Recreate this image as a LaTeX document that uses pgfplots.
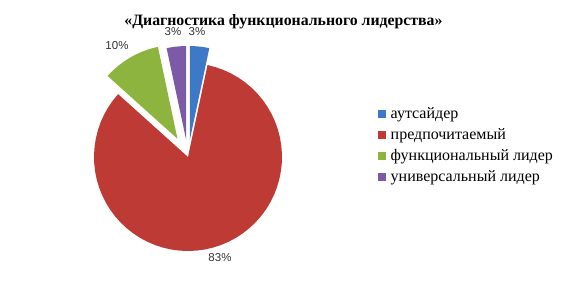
\documentclass[border=0pt]{standalone}
\usepackage{pgfplots}
\pgfplotsset{compat=1.18}
\usepackage{fontspec}
\setmainfont{Liberation Serif}
\newfontfamily\labfont{Liberation Sans}
\definecolor{cBlue}{RGB}{61,121,198}
\definecolor{cRed}{RGB}{190,58,52}
\definecolor{cGreen}{RGB}{141,180,62}
\definecolor{cPurple}{RGB}{125,90,166}
% data (percent): аутсайдер, предпочитаемый, функциональный лидер, универсальный лидер
\pgfmathsetmacro{\pA}{3.33}
\pgfmathsetmacro{\pB}{83.33}
\pgfmathsetmacro{\pC}{10}
\pgfmathsetmacro{\pD}{3.33}
\pgfmathsetmacro{\aA}{0}
\pgfmathsetmacro{\aB}{\aA+3.6*\pA}
\pgfmathsetmacro{\aC}{\aB+3.6*\pB}
\pgfmathsetmacro{\aD}{\aC+3.6*\pC}
\pgfmathsetmacro{\aE}{\aD+3.6*\pD}
\def\cx{188}
\def\cy{157}
\def\R{94}
% slice: color, start, end, explode distance
\newcommand{\slice}[4]{%
  \pgfmathsetmacro{\midang}{(#2+#3)/2}%
  \pgfmathsetmacro{\ex}{\cx+#4*sin(\midang)}%
  \pgfmathsetmacro{\ey}{\cy-#4*cos(\midang)}%
  \edef\tmp{\noexpand\addplot[fill=#1, draw=none, domain=#2:#3, samples=60]
    ({\ex+\R*sin(x)}, {\ey-\R*cos(x)}) -- (axis cs:\ex,\ey) -- cycle;}%
  \tmp}
\begin{document}
\begin{tikzpicture}
\begin{axis}[
  width=567pt, height=288pt, scale only axis,
  xmin=0, xmax=567, ymin=0, ymax=288, y dir=reverse,
  hide axis, clip=false,
  legend style={at={(axis cs:377.5,103.5)}, anchor=north west, draw=none, fill=none,
    font=\fontsize{16}{18}\selectfont, row sep=0pt, inner sep=0pt,
    nodes={inner sep=1.5pt, text height=13pt, text depth=5pt},
    /tikz/every odd column/.append style={column sep=3.5pt}},
  legend cell align=left,
  legend image code/.code={\fill[#1] (0pt,-4pt) rectangle (8pt,4pt);},
]
\path (axis cs:0,0) rectangle (axis cs:567,288);
\slice{cBlue}{\aA}{\aB}{17}
\slice{cRed}{\aB}{\aC}{0}
\slice{cGreen}{\aC}{\aD}{21}
\slice{cPurple}{\aD}{\aE}{17}
\legend{аутсайдер, предпочитаемый, функциональный лидер, универсальный лидер}
\node[font=\fontsize{15.8}{18}\selectfont\bfseries] at (axis cs:283.5,22) {«Диагностика функционального лидерства»};
\node[font=\labfont\fontsize{11.5}{13}\selectfont, text=black!80] at (axis cs:197,32) {3\%};
\node[font=\labfont\fontsize{11.5}{13}\selectfont, text=black!80] at (axis cs:173,32) {3\%};
\node[font=\labfont\fontsize{11.5}{13}\selectfont, text=black!80] at (axis cs:117,46) {10\%};
\node[font=\labfont\fontsize{11.5}{13}\selectfont, text=black!80] at (axis cs:220,258) {83\%};
\end{axis}
\end{tikzpicture}
\end{document}
